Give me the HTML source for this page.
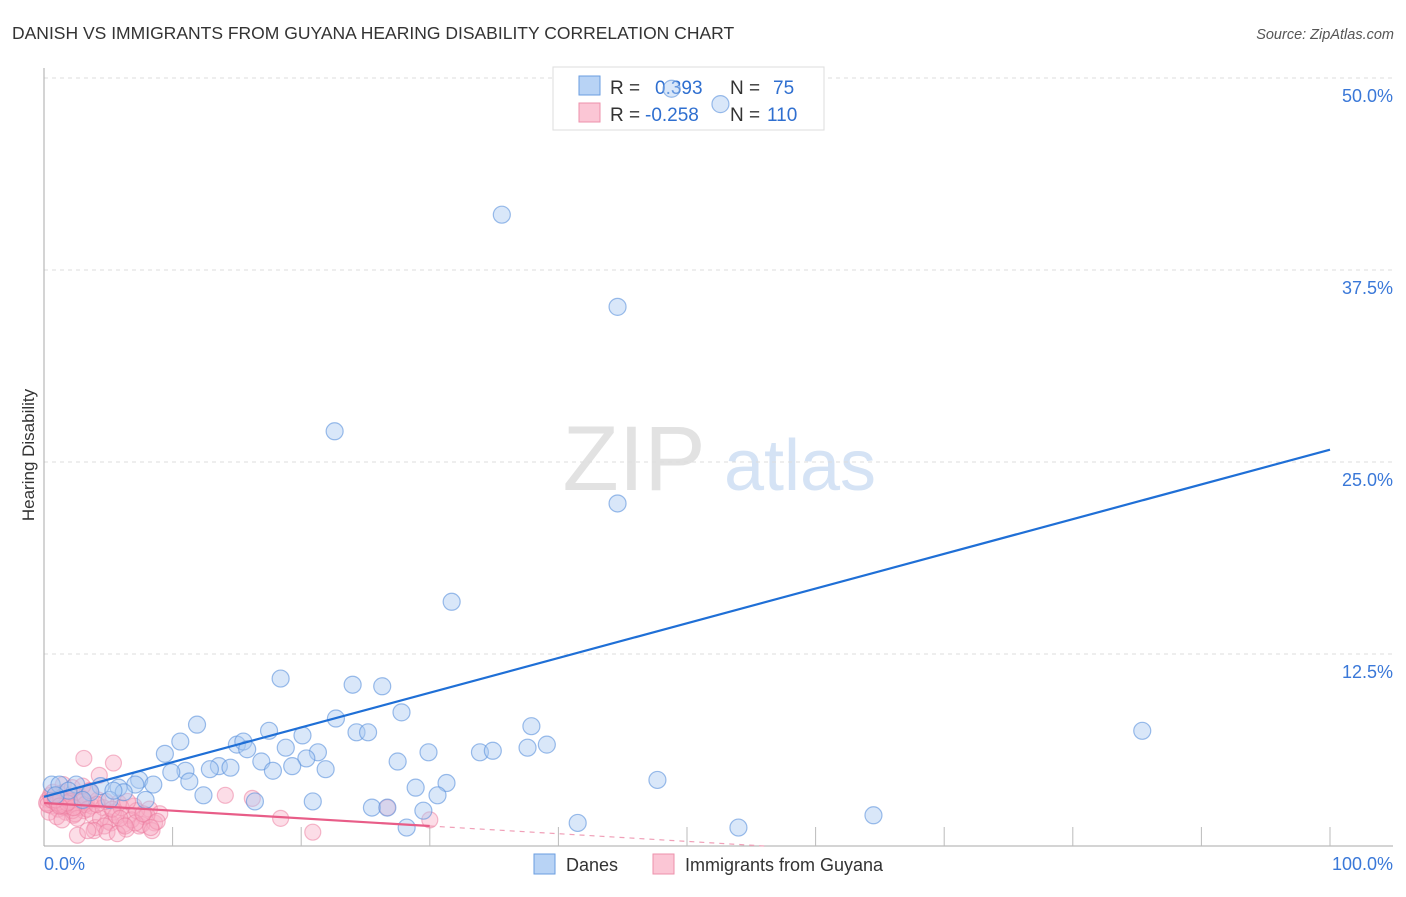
<!DOCTYPE html>
<html><head><meta charset="utf-8"><style>
body{margin:0;background:#fff;font-family:"Liberation Sans",sans-serif}
svg text{font-family:"Liberation Sans",sans-serif}
</style></head><body>
<svg id="chart" width="1406" height="892" xmlns="http://www.w3.org/2000/svg">
<text x="12" y="39" font-size="17.5" fill="#333">DANISH VS IMMIGRANTS FROM GUYANA HEARING DISABILITY CORRELATION CHART</text>
<text x="1394" y="39" font-size="14.5" fill="#555" font-style="italic" text-anchor="end">Source: ZipAtlas.com</text>
<text x="634" y="490" font-size="92" fill="#e2e2e2" font-family="Liberation Serif" text-anchor="middle">ZIP</text>
<text x="800" y="490" font-size="72" fill="#d5e3f5" text-anchor="middle">atlas</text>
<g id="grid"></g><g id="axes"></g>
<g>
<rect x="553" y="67" width="271" height="63" fill="#fff" stroke="#ddd"/>
<rect x="579" y="76" width="21" height="19" fill="#b8d3f5" stroke="#6a9ee0"/>
<rect x="579" y="103" width="21" height="19" fill="#fbc6d5" stroke="#ee90ab"/>
<text x="610" y="94" font-size="19" fill="#333">R = <tspan fill="#2f6fd0" x="655">0.393</tspan><tspan x="730" fill="#333">N = </tspan><tspan fill="#2f6fd0" x="773">75</tspan></text>
<text x="610" y="121" font-size="19" fill="#333">R = <tspan fill="#2f6fd0" x="645">-0.258</tspan><tspan x="730" fill="#333">N = </tspan><tspan fill="#2f6fd0" x="767">110</tspan></text>
</g>
<g id="pinkpts"></g><g id="bluepts"></g><g id="lines"></g>
<text x="34" y="455" font-size="17" fill="#333" text-anchor="middle" transform="rotate(-90 34 455)">Hearing Disability</text>
<g>
<rect x="534" y="854" width="21" height="20" fill="#b8d3f5" stroke="#6a9ee0"/>
<text x="566" y="871" font-size="18" fill="#333">Danes</text>
<rect x="653" y="854" width="21" height="20" fill="#fbc6d5" stroke="#ee90ab"/>
<text x="685" y="871" font-size="18" fill="#333">Immigrants from Guyana</text>
</g>
</svg>
<script>
const yTicks=[12.5,25,37.5,50];
const yTickLabels=["12.5%","25.0%","37.5%","50.0%"];
const xTickVals=[0,10,20,30,40,50,60,70,80,90,100];
const xEndLabels=["0.0%","100.0%"];
const blueX=[35.6,44.6,22.6,44.6,31.7,18.4,24.0,26.3,27.8,22.7,11.9,37.9,17.5,85.4,24.3,25.2,10.6,15.0,15.5,20.1,39.1,9.4,15.8,18.8,21.3,29.9,33.9,34.9,37.6,16.9,20.4,27.5,13.6,14.5,12.9,19.3,17.8,21.9,11.0,9.9,7.4,7.1,8.5,11.3,47.7,31.3,28.9,4.4,2.5,0.6,5.8,3.6,6.2,30.6,12.4,7.9,20.9,16.4,25.5,26.7,29.5,64.5,41.5,28.2,54.0,48.8,52.6,1.2,1.9,5.1,5.4,3.0,0.9];
const blueY=[41.1,35.1,27.0,22.3,15.9,10.9,10.5,10.4,8.7,8.3,7.9,7.8,7.5,7.5,7.4,7.4,6.8,6.6,6.8,7.2,6.6,6.0,6.3,6.4,6.1,6.1,6.1,6.2,6.4,5.5,5.7,5.5,5.2,5.1,5.0,5.2,4.9,5.0,4.9,4.8,4.3,4.0,4.0,4.2,4.3,4.1,3.8,3.9,4.0,4.0,3.8,3.5,3.5,3.3,3.3,3.0,2.9,2.9,2.5,2.5,2.3,2.0,1.5,1.2,1.2,49.3,48.3,4.0,3.6,3.0,3.6,3.0,3.3];
const pinkX=[3.1,5.4,4.3,14.1,16.2,26.7,18.4,20.9,30.0,0.3,0.6,0.9,1.1,1.3,1.5,1.7,1.9,2.1,2.3,2.5,2.7,2.9,3.1,3.3,3.5,3.7,0.4,0.8,1.2,1.6,2.0,2.4,2.8,3.2,0.5,1.0,1.4,1.8,2.2,2.6,3.0,3.4,3.8,4.2,4.6,5.0,5.4,5.8,6.2,6.6,7.0,7.4,7.8,8.2,8.6,9.0,4.0,4.4,4.8,5.2,5.6,6.0,6.4,6.8,7.2,7.6,8.0,8.4,8.8,3.6,4.1,4.7,5.3,5.9,6.5,7.1,7.7,8.3,0.2,0.7,1.5,2.2,3.0,3.9,4.9,5.7,6.3,2.6,3.4,1.4,0.3,0.6,1.0,1.3,1.6,2.0,2.3,1.8,0.9,1.2];
const pinkY=[5.7,5.4,4.6,3.3,3.1,2.5,1.8,0.9,1.7,3.0,2.6,3.2,2.4,2.9,3.5,2.2,3.1,2.7,2.0,3.3,2.5,3.0,2.3,2.8,3.6,2.6,2.2,2.9,3.4,2.5,3.0,2.1,3.2,2.7,3.3,1.9,2.6,3.1,2.3,1.8,2.9,2.4,2.0,3.0,2.5,1.6,2.2,2.8,1.4,2.0,2.6,1.3,1.9,2.4,1.5,2.1,1.2,1.8,2.9,1.5,2.0,2.5,1.1,1.7,2.3,1.4,2.0,1.0,1.6,3.6,2.7,1.3,2.4,1.8,2.9,1.5,2.1,1.2,2.8,3.5,4.0,3.8,3.9,1.0,0.9,0.8,1.3,0.7,1.0,1.7,2.7,3.0,2.8,3.1,2.6,2.9,2.5,2.8,3.0,2.6];
const blueFit=[3.2,25.8];
const pinkFit=[2.8,-0.05];
const NS="http://www.w3.org/2000/svg";
const X=v=>44+v*12.86, Y=v=>846-v*15.36;
function mk(t,a,p){const e=document.createElementNS(NS,t);for(const k in a)e.setAttribute(k,a[k]);document.getElementById(p).appendChild(e);return e;}
yTicks.forEach((t,i)=>{
 const l=mk('line',{x1:44,x2:1393,y1:Y(t),y2:Y(t),stroke:'#ddd','stroke-dasharray':'4 4'},'grid');
 
 
 const tx=mk('text',{x:1393,y:Y(t)+24,'font-size':18,fill:'#3a78d8','text-anchor':'end'},'axes');
 tx.textContent=yTickLabels[i];
 
 
});
let a=mk('line',{x1:44,x2:44,y1:68,y2:846,stroke:'#aaa'},'axes');


a=mk('line',{x1:44,x2:1393,y1:846,y2:846,stroke:'#aaa'},'axes');


xTickVals.forEach(v=>{
 if(v===0)return;
 const t=mk('line',{x1:X(v),x2:X(v),y1:827,y2:846,stroke:'#bbb'},'axes');
 
 
});
let xl=mk('text',{x:44,y:870,'font-size':18,fill:'#3a78d8'},'axes');xl.textContent=xEndLabels[0];


xl=mk('text',{x:1393,y:870,'font-size':18,fill:'#3a78d8','text-anchor':'end'},'axes');xl.textContent=xEndLabels[1];


pinkX.forEach((x,i)=>{
 const c=mk('circle',{cx:X(x),cy:Y(pinkY[i]),r:8,fill:'rgba(248,170,195,0.4)',stroke:'rgba(235,120,155,0.5)','stroke-width':1.2},'pinkpts');
 
 
});
blueX.forEach((x,i)=>{
 const c=mk('circle',{cx:X(x),cy:Y(blueY[i]),r:8.5,fill:'rgba(170,202,242,0.45)',stroke:'rgba(90,145,220,0.6)','stroke-width':1.2},'bluepts');
 
 
});
let ln=mk('line',{x1:X(0),y1:Y(blueFit[0]),x2:X(100),y2:Y(blueFit[1]),stroke:'#1f6fd6','stroke-width':2.2},'lines');


const pz=-pinkFit[0]/pinkFit[1];
ln=mk('line',{x1:X(0),y1:Y(pinkFit[0]),x2:X(30),y2:Y(pinkFit[0]+pinkFit[1]*30),stroke:'#e85d88','stroke-width':2.2},'lines');


ln=mk('line',{x1:X(30),y1:Y(pinkFit[0]+pinkFit[1]*30),x2:X(pz),y2:Y(0),stroke:'#f0a0b8','stroke-width':1.2,'stroke-dasharray':'5 5'},'lines');


</script>
</body></html>
